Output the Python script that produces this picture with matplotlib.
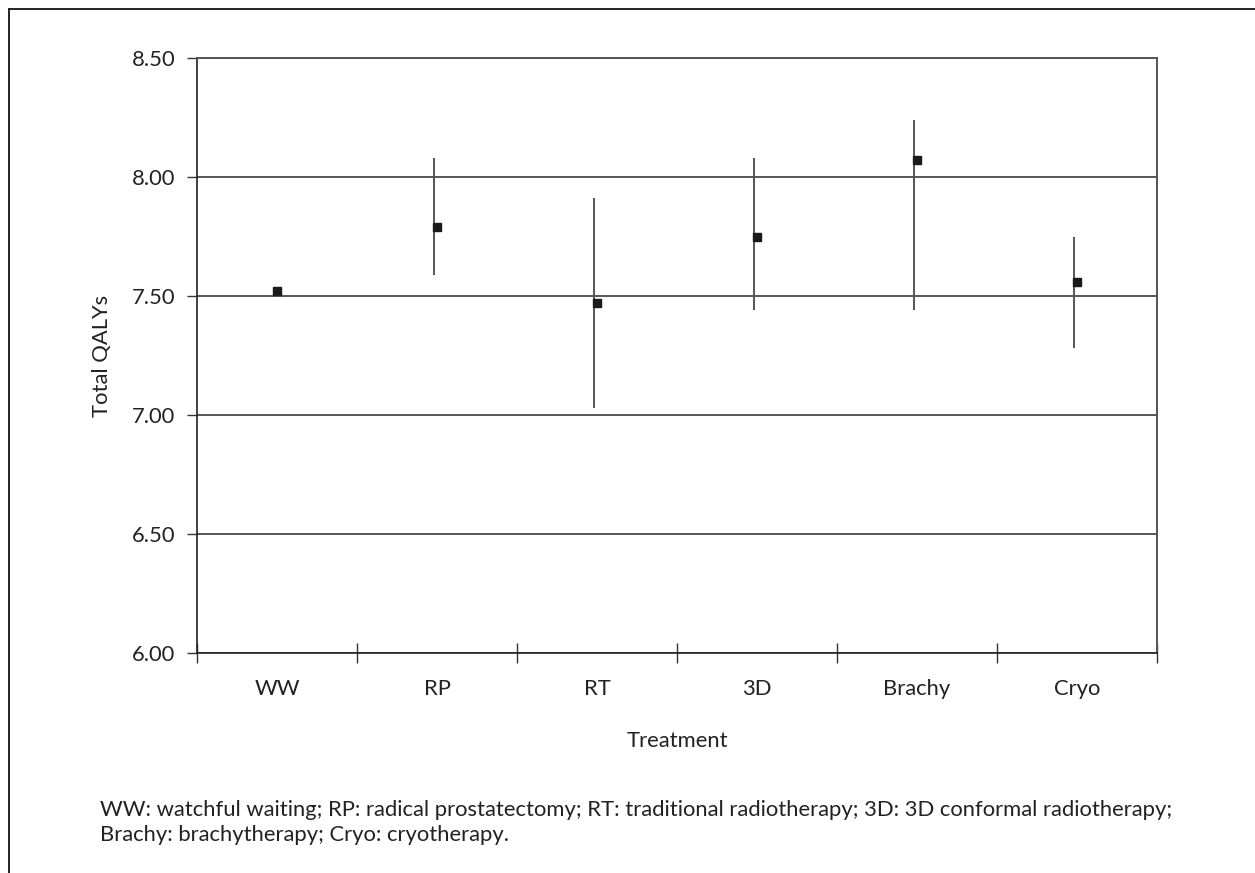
import matplotlib
matplotlib.use("Agg")
import matplotlib.pyplot as plt
import matplotlib.transforms as mtransforms
from matplotlib.lines import Line2D

plt.rcParams['font.family'] = ['Lato', 'DejaVu Sans']

# data
treatments = ['WW', 'RP', 'RT', '3D', 'Brachy', 'Cryo']
qalys = [7.52, 7.79, 7.47, 7.75, 8.07, 7.56]
upper = [7.52, 8.08, 7.91, 8.08, 8.24, 7.75]
lower = [7.52, 7.59, 7.03, 7.44, 7.44, 7.28]
yticks = [6.00, 6.50, 7.00, 7.50, 8.00, 8.50]
caption = ("WW: watchful waiting; RP: radical prostatectomy; RT: traditional radiotherapy; "
           "3D: 3D conformal radiotherapy;\nBrachy: brachytherapy; Cryo: cryotherapy.")

fs = 15.8
txt = '#222222'

fig = plt.figure(figsize=(12.55, 8.73), dpi=100)
ax = fig.add_axes([197/1255, 1-653/873, (1157-197)/1255, (653-58)/873])

x = list(range(1, len(treatments) + 1))

# error bars sit a few pixels left of the markers
shift = mtransforms.ScaledTranslation(-3.5/100, 0, fig.dpi_scale_trans)
for xi, lo, hi in zip(x, lower, upper):
    if hi > lo:
        ax.plot([xi, xi], [lo, hi], color='#555555', lw=1.4,
                transform=ax.transData + shift, zorder=3, solid_capstyle='butt')

ax.plot(x, qalys, ls='none', marker='s', ms=5.2, color='#1a1a1a', zorder=4)

ax.set_xlim(0.5, len(treatments) + 0.5)
ax.set_ylim(6.0, 8.5)
ax.set_yticks(yticks)
ax.set_yticklabels(['%.2f' % v for v in yticks], fontsize=fs, color=txt)
ax.yaxis.grid(True, color='#3a3a3a', lw=1.2)
ax.set_axisbelow(True)
ax.tick_params(axis='y', direction='out', length=7.2, width=1, color='#333333', pad=8.5)

ax.set_xticks([i + 0.5 for i in range(len(treatments) + 1)])
ax.set_xticklabels([])
ax.set_xticks(x, minor=True)
ax.set_xticklabels(treatments, minor=True, fontsize=fs, color=txt)
ax.tick_params(axis='x', which='major', direction='inout', length=14.4, width=1, color='#333333')
ax.tick_params(axis='x', which='minor', length=0, pad=19)

for side in ['left', 'bottom']:
    ax.spines[side].set_color('#222222')
    ax.spines[side].set_linewidth(1.2)
for side in ['top', 'right']:
    ax.spines[side].set_color('#555555')
    ax.spines[side].set_linewidth(1.4)

ax.set_ylabel('Total QALYs', fontsize=fs, color=txt, labelpad=14)
ax.set_xlabel('Treatment', fontsize=fs, color=txt, labelpad=23)

fig.text(100/1255, 1-800/873, caption, fontsize=fs, color=txt,
         ha='left', va='top', linespacing=1.3)

# frame around the figure: top and left edges
fig.add_artist(Line2D([9/1255, 1], [1-9/873, 1-9/873], color='#222222', lw=1.4,
                      transform=fig.transFigure))
fig.add_artist(Line2D([9/1255, 9/1255], [0, 1-9/873], color='#222222', lw=1.4,
                      transform=fig.transFigure))

fig.savefig('out.png', dpi=100)
